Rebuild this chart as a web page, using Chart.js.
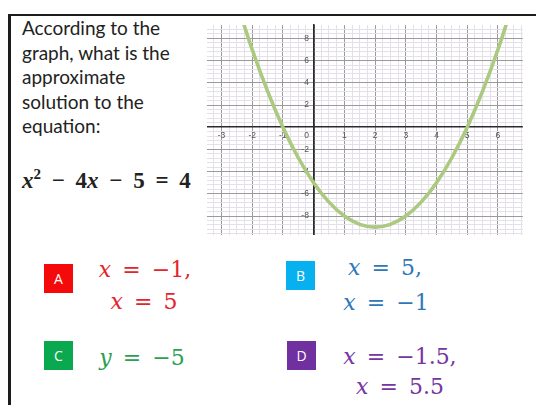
<!DOCTYPE html>
<html>
<head>
<meta charset="utf-8">
<script src="https://cdn.jsdelivr.net/npm/chart.js@4.4.1/dist/chart.umd.min.js"></script>
<style>
  html, body { margin: 0; padding: 0; background: #fff; }
  #page { position: relative; width: 536px; height: 405px; overflow: hidden; background: #fff; }
  #frame { position: absolute; left: 8px; top: 14px; width: 540px; height: 400px;
           border-top: 2.5px solid #1c1c1c; border-left: 3px solid #1c1c1c; }
  #graph { position: absolute; left: 207px; top: 17px; width: 317px; height: 226px; }
  .q { position: absolute; left: 22px; top: 16px; font-family: Lato, sans-serif; font-size: 19px;
       line-height: 24.5px; color: #222; }
  .eq { position: absolute; left: 22px; top: 166px; font-family: "Liberation Serif", "DejaVu Serif", serif;
        font-weight: bold; font-size: 23px; line-height: 30px; color: #222; word-spacing: 5px; white-space: nowrap; }
  .eq sup { font-size: 15px; line-height: 0; vertical-align: 9px; }
  .box { position: absolute; width: 29px; height: 29px; color: #fff; font-family: "Open Sans", sans-serif;
         font-size: 14px; line-height: 29px; text-align: center; }
  .m { position: absolute; width: 160px; text-align: center; font-family: "DejaVu Serif", "Liberation Serif", serif;
       font-size: 22px; line-height: 30px; white-space: nowrap; word-spacing: 4px; }
</style>
</head>
<body>
<div id="page">
  <div id="frame"></div>
  <div class="q">According to the<br>graph, what is the<br>approximate<br>solution to the<br>equation:</div>
  <div class="eq"><i>x</i><sup>2</sup> − 4<i>x</i> − 5 = 4</div>

  <div class="box" style="left:44px; top:264px; background:#f40a0a;">A</div>
  <div class="m" style="left:65px; top:255px; color:#e3252b;"><i>x</i> = −1,</div>
  <div class="m" style="left:64px; top:287px; color:#e3252b;"><i>x</i> = 5</div>

  <div class="box" style="left:286px; top:261px; background:#07b0ee;">B</div>
  <div class="m" style="left:305px; top:253px; color:#2e78b8;"><i>x</i> = 5,</div>
  <div class="m" style="left:306px; top:288px; color:#2e78b8;"><i>x</i> = −1</div>

  <div class="box" style="left:44px; top:341px; background:#0aa94f;">C</div>
  <div class="m" style="left:62px; top:343px; color:#2ca052;"><i>y</i> = −5</div>

  <div class="box" style="left:287px; top:341px; background:#7030a0;">D</div>
  <div class="m" style="left:320px; top:342px; color:#7535a3;"><i>x</i> = −1.5,</div>
  <div class="m" style="left:320px; top:372px; color:#7535a3;"><i>x</i> = 5.5</div>

  <div id="graph"><canvas id="chart"></canvas></div>
</div>
<script>
// points
const curveX = [-2.5, -2, -1.5, -1, -0.5, 0, 0.5, 1, 1.5, 2, 2.5, 3, 3.5, 4, 4.5, 5, 5.5, 6, 6.5];
const curveY = [11.25, 7, 3.25, 0, -2.75, -5, -6.75, -8, -8.75, -9, -8.75, -8, -6.75, -5, -2.75, 0, 3.25, 7, 11.25];

const xTickLabels = [-3, -2, -1, 0, 1, 2, 3, 4, 5, 6];
const yTickLabels = [-8, -6, -4, -2, 2, 4, 6, 8];

function gridTicks(axis, step) {
  const ticks = [];
  let v = Math.ceil(axis.min / step) * step;
  while (v <= axis.max) {
    ticks.push({ value: Math.round(v * 100) / 100 });
    v += step;
  }
  axis.ticks = ticks;
}

function isWhole(v, unit) {
  return Math.abs(v / unit - Math.round(v / unit)) < 1e-6;
}

function gridColor(unit) {
  return function (ctx) {
    const v = ctx.tick.value;
    if (v === 0) return "#2a2a2a";
    return isWhole(v, unit) ? "#9a9a9a" : "#e4dfe8";
  };
}

function gridWidth(ctx) {
  return ctx.tick.value === 0 ? 1.6 : 1;
}

const tickFont = { family: "Liberation Sans, Arial, sans-serif", size: 8.5 };

new Chart(document.getElementById("chart"), {
  type: "line",
  data: {
    datasets: [
      {
        data: curveX.map((x, i) => ({ x: x, y: curveY[i] })),
        borderColor: "#abc97f",
        borderWidth: 3.6,
        pointRadius: 0,
        tension: 0.4,
        fill: false,
      },
    ],
  },
  options: {
    responsive: true,
    maintainAspectRatio: false,
    animation: false,
    layout: { padding: 0 },
    plugins: { legend: { display: false }, tooltip: { enabled: false } },
    scales: {
      x: {
        type: "linear",
        min: -3.47,
        max: 6.81,
        position: { y: 0 },
        afterBuildTicks: (axis) => gridTicks(axis, 0.25),
        border: { display: false },
        grid: { color: gridColor(1), lineWidth: gridWidth, drawTicks: false },
        ticks: {
          autoSkip: false,
          maxRotation: 0,
          padding: 3,
          color: "#555",
          font: tickFont,
          callback: function (value) {
            if (value === 0) return "0      ";
            return xTickLabels.includes(value) ? String(value) : "";
          },
        },
      },
      y: {
        type: "linear",
        min: -9.7,
        max: 9.2,
        position: { x: 0 },
        afterBuildTicks: (axis) => gridTicks(axis, 0.4),
        // the y axis line is drawn as the border so it sits over the minor lines
        border: { display: true, color: "#2a2a2a", width: 1.6 },
        grid: { color: gridColor(2), lineWidth: gridWidth, drawTicks: false },
        ticks: {
          autoSkip: false,
          padding: 3,
          color: "#555",
          font: tickFont,
          callback: function (value) {
            return yTickLabels.includes(value) ? value + "  " : "";
          },
        },
      },
    },
  },
});
</script>
</body>
</html>
